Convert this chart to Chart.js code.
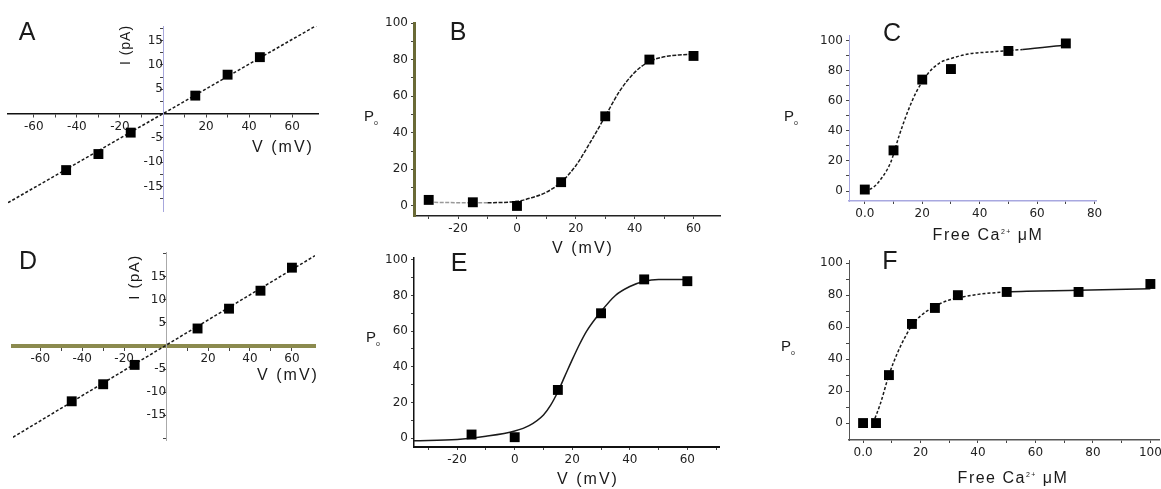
<!DOCTYPE html>
<html lang="en">
<head>
<meta charset="UTF-8">
<title>I-V and open probability panels</title>
<script src="https://cdn.jsdelivr.net/npm/chart.js@4.4.0/dist/chart.umd.min.js"></script>
<style>
  html, body { margin: 0; padding: 0; background: #fff; overflow: hidden; }
  #fig { position: relative; width: 1161px; height: 489px; font-family: "Liberation Sans", Arial, sans-serif; color: #1a1a1a; }
  #fig canvas { position: absolute; }
  .lbl { position: absolute; transform: translate(-50%, -50%); white-space: nowrap; line-height: 1; }
  .letter { font-size: 25px; }
  .ttl { font-size: 16px; letter-spacing: 2px; }
  .rot { transform: translate(-50%, -50%) rotate(-90deg); font-size: 14px; letter-spacing: 1px; }
  .p { font-size: 15px; }
  sub, sup { font-size: 7px; }
</style>
</head>
<body>
<div id="fig">
  <canvas id="cA" width="340" height="240" style="left:0;top:0"></canvas>
  <canvas id="cB" width="380" height="250" style="left:350px;top:0"></canvas>
  <canvas id="cC" width="350" height="245" style="left:770px;top:0"></canvas>
  <canvas id="cD" width="340" height="240" style="left:0;top:240px"></canvas>
  <canvas id="cE" width="380" height="244" style="left:350px;top:245px"></canvas>
  <canvas id="cF" width="410" height="244" style="left:770px;top:245px"></canvas>

  <div class="lbl letter" style="left:27px;top:31px">A</div>
  <div class="lbl rot" style="left:125px;top:45px">I (pA)</div>
  <div class="lbl ttl" style="left:283px;top:147px">V (mV)</div>

  <div class="lbl letter" style="left:458px;top:31px">B</div>
  <div class="lbl p" style="left:371px;top:117px">P<sub>o</sub></div>
  <div class="lbl ttl" style="left:583px;top:248px">V (mV)</div>

  <div class="lbl letter" style="left:892px;top:32px">C</div>
  <div class="lbl p" style="left:791px;top:117px">P<sub>o</sub></div>
  <div class="lbl ttl" style="left:988px;top:235px;letter-spacing:1.5px">Free Ca<sup>2+</sup> μM</div>

  <div class="lbl letter" style="left:28px;top:260px">D</div>
  <div class="lbl rot" style="left:133px;top:277px;font-size:15px;letter-spacing:1.5px">I (pA)</div>
  <div class="lbl ttl" style="left:288px;top:375px">V (mV)</div>

  <div class="lbl letter" style="left:459px;top:262px">E</div>
  <div class="lbl p" style="left:373px;top:338px">P<sub>o</sub></div>
  <div class="lbl ttl" style="left:588px;top:479px">V (mV)</div>

  <div class="lbl letter" style="left:890px;top:260px">F</div>
  <div class="lbl p" style="left:788px;top:347px">P<sub>o</sub></div>
  <div class="lbl ttl" style="left:1013px;top:478px;letter-spacing:1.5px">Free Ca<sup>2+</sup> μM</div>
</div>

<script>
// A : I-V
const aVolt = [-45, -30, -15, 15, 30, 45];
const aCurr = [-11.6, -8.3, -3.9, 3.7, 8.0, 11.6];
const aFitV = [-72, 72];
const aFitI = [-18.3, 18.3];
const aTicksX = [-60, -50, -40, -30, -20, -10, 0, 10, 20, 30, 40, 50, 60];
const aLabelsX = [-60, -40, -20, 20, 40, 60];
const aTicksY = [-17.5, -15, -12.5, -10, -7.5, -5, -2.5, 0, 2.5, 5, 7.5, 10, 12.5, 15, 17.5];
const aLabelsY = [-15, -10, -5, 5, 10, 15];

// B : Po vs V
const bVolt = [-30, -15, 0, 15, 30, 45, 60];
const bPo = [3.3, 2, 0, 13, 49, 80, 82];
const bFitV = [-30, -20, -10, 0, 5, 10, 15, 20, 25, 30, 35, 40, 45, 50, 55, 60];
const bFitPo = [2, 1.8, 1.8, 2.5, 4.5, 7.5, 13, 22, 35, 49, 63, 73, 79, 81.5, 82.5, 83];
const bTicksX = [-30, -20, -10, 0, 10, 20, 30, 40, 50, 60];
const bLabelsX = [-20, 0, 20, 40, 60];

// C : Po vs free Ca
const cCa = [0, 10, 20, 30, 50, 70];
const cPo = [1, 27, 74, 81, 93, 98];
const cFitCa = [0, 3, 6, 9, 12, 15, 18, 22, 26, 30, 36, 45, 55, 70];
const cFitPo = [0, 2.5, 9, 19, 37, 53, 66, 78, 85, 88, 91, 92.5, 94, 97];
const cTicksX = [0, 10, 20, 30, 40, 50, 60, 70, 80];
const cLabelsX = [0, 20, 40, 60, 80];

// D : I-V
const dVolt = [-45, -30, -15, 15, 30, 45, 60];
const dCurr = [-12, -8.3, -4.1, 3.8, 8.1, 12, 17];
const dFitV = [-73, 71];
const dFitI = [-19.8, 19.6];
const dTicksX = [-60, -50, -40, -30, -20, -10, 0, 10, 20, 30, 40, 50, 60];
const dLabelsX = [-60, -40, -20, 20, 40, 60];
const dTicksY = [-20, -15, -10, -5, 0, 5, 10, 15, 20];
const dLabelsY = [-15, -10, -5, 5, 10, 15];

// E : Po vs V
const eVolt = [-15, 0, 15, 30, 45, 60];
const ePo = [2, 0.5, 27, 70, 89, 88];
const eFitV = [-35, -20, -10, 0, 5, 10, 12.5, 15, 17.5, 20, 22.5, 25, 30, 35, 40, 45, 50, 60];
const eFitPo = [-1.5, -0.8, 1, 4, 7, 13, 18.5, 26, 35, 44, 52.5, 60, 71, 80, 85, 88, 89, 89];
const eTicksX = [-30, -20, -10, 0, 10, 20, 30, 40, 50, 60, 70];
const eLabelsX = [-20, 0, 20, 40, 60];

// F : Po vs free Ca
const fCa = [0, 4.5, 9, 17, 25, 33, 50, 75, 100];
const fPo = [0, 0, 30, 62, 72, 80, 82, 82, 87];
const fFitCa = [3.5, 6, 9, 12, 15, 17, 20, 25, 30, 35, 40, 50, 75, 100];
const fFitPo = [0, 12, 30, 44, 55, 61, 67, 73, 77, 79, 80.5, 82, 83, 84];
const fTicksX = [0, 10, 20, 30, 40, 50, 60, 70, 80, 90, 100];
const fLabelsX = [0, 20, 40, 60, 80, 100];

const poTicks = [0, 10, 20, 30, 40, 50, 60, 70, 80, 90, 100];
const poLabels = [0, 20, 40, 60, 80, 100];

function pts(xs, ys) {
  return xs.map((x, i) => ({x: x, y: ys[i]}));
}

function axis(o) {
  return {
    type: 'linear',
    min: o.min,
    max: o.max,
    position: o.position,
    afterBuildTicks: s => { s.ticks = o.ticks.map(v => ({value: v})); },
    afterFit: s => {
      if (!o.size) return;
      if (s.isHorizontal()) s.height = o.size; else s.width = o.size;
    },
    grid: { display: true, drawOnChartArea: false, drawTicks: true, tickLength: 3, color: '#444' },
    border: { display: true, color: o.color, width: o.width, dash: o.dash || [] },
    ticks: {
      color: '#222',
      font: { family: 'DejaVu Sans', size: 12 },
      padding: 3,
      autoSkip: false,
      maxRotation: 0,
      callback: v => o.labels.includes(v) ? (o.fmt ? o.fmt(v) : String(v)) : ''
    }
  };
}

function panel(id, padding, fit, marks, x, y) {
  return new Chart(document.getElementById(id), {
    type: 'scatter',
    data: { datasets: [fit, marks] },
    options: {
      responsive: false,
      animation: false,
      devicePixelRatio: 1,
      layout: { padding: padding },
      plugins: { legend: { display: false }, tooltip: { enabled: false } },
      scales: { x: x, y: y }
    }
  });
}

function fitLine(xs, ys, dash, extra) {
  return Object.assign({
    data: pts(xs, ys),
    showLine: true,
    borderColor: '#1a1a1a',
    borderWidth: 1.5,
    borderDash: dash,
    pointRadius: 0,
    cubicInterpolationMode: 'monotone',
    order: 2
  }, extra || {});
}

function squares(xs, ys) {
  return {
    data: pts(xs, ys),
    pointStyle: 'rect',
    pointRadius: 7,
    backgroundColor: '#000',
    borderColor: '#000',
    borderWidth: 0,
    order: 1
  };
}

// solid tail on the Ca fits, dashed elsewhere
const tailSolid = { segment: { borderDash: c => c.p0.parsed.x >= 50 ? [] : [3, 2] } };

panel('cA', {left: 8, right: 22, top: 26, bottom: 29},
  fitLine(aFitV, aFitI, [3, 2]), squares(aVolt, aCurr),
  axis({min: -72, max: 72, position: {y: 0}, ticks: aTicksX, labels: aLabelsX, color: '#111', width: 1.5}),
  axis({min: -20, max: 18, position: {x: 0}, ticks: aTicksY, labels: aLabelsY, color: '#a7a7dd', width: 1, dash: [2, 2]}));

panel('cB', {left: 0, right: 10, top: 23, bottom: 8},
  fitLine(bFitV, bFitPo, [4, 1.5], { segment: { borderColor: c => c.p0.parsed.x < -15 ? '#999' : '#1a1a1a' } }),
  squares(bVolt, bPo),
  axis({min: -35, max: 69, position: 'bottom', ticks: bTicksX, labels: bLabelsX, color: '#222', width: 1.5, size: 26}),
  axis({min: -5.5, max: 100, position: 'left', ticks: poTicks, labels: poLabels, color: '#6a6a36', width: 3, size: 64}));

panel('cC', {left: 0, right: 24, top: 35, bottom: 18},
  fitLine(cFitCa, cFitPo, [3, 2], tailSolid), squares(cCa, cPo),
  axis({min: -5.5, max: 80.5, position: 'bottom', ticks: cTicksX, labels: cLabelsX, color: '#a8a8e0', width: 1.5, size: 26,
        fmt: v => v === 0 ? '0.0' : String(v)}),
  axis({min: -6.6, max: 103.6, position: 'left', ticks: poTicks, labels: poLabels, color: '#a8a8e0', width: 1, dash: [2, 2], size: 79}));

panel('cD', {left: 13, right: 25, top: 12, bottom: 40},
  fitLine(dFitV, dFitI, [3, 2]), squares(dVolt, dCurr),
  axis({min: -73, max: 71, position: {y: 0}, ticks: dTicksX, labels: dLabelsX, color: '#8b8a4e', width: 4}),
  axis({min: -20.4, max: 20.4, position: {x: 0}, ticks: dTicksY, labels: dLabelsY, color: '#aaa', width: 1, dash: [2, 2]}));

panel('cE', {left: 0, right: 11, top: 13, bottom: 16},
  fitLine(eFitV, eFitPo, []), squares(eVolt, ePo),
  axis({min: -35, max: 71, position: 'bottom', ticks: eTicksX, labels: eLabelsX, color: '#111', width: 2, size: 26}),
  axis({min: -5, max: 101, position: 'left', ticks: poTicks, labels: poLabels, color: '#111', width: 1.5, size: 64}));

panel('cF', {left: 0, right: 21, top: 15, bottom: 23},
  fitLine(fFitCa, fFitPo, [3, 2], tailSolid), squares(fCa, fPo),
  axis({min: -4.9, max: 103, position: 'bottom', ticks: fTicksX, labels: fLabelsX, color: '#555', width: 1.5, size: 26,
        fmt: v => v === 0 ? '0.0' : String(v)}),
  axis({min: -10.6, max: 102, position: 'left', ticks: poTicks, labels: poLabels, color: '#555', width: 1, size: 79}));
</script>
</body>
</html>
